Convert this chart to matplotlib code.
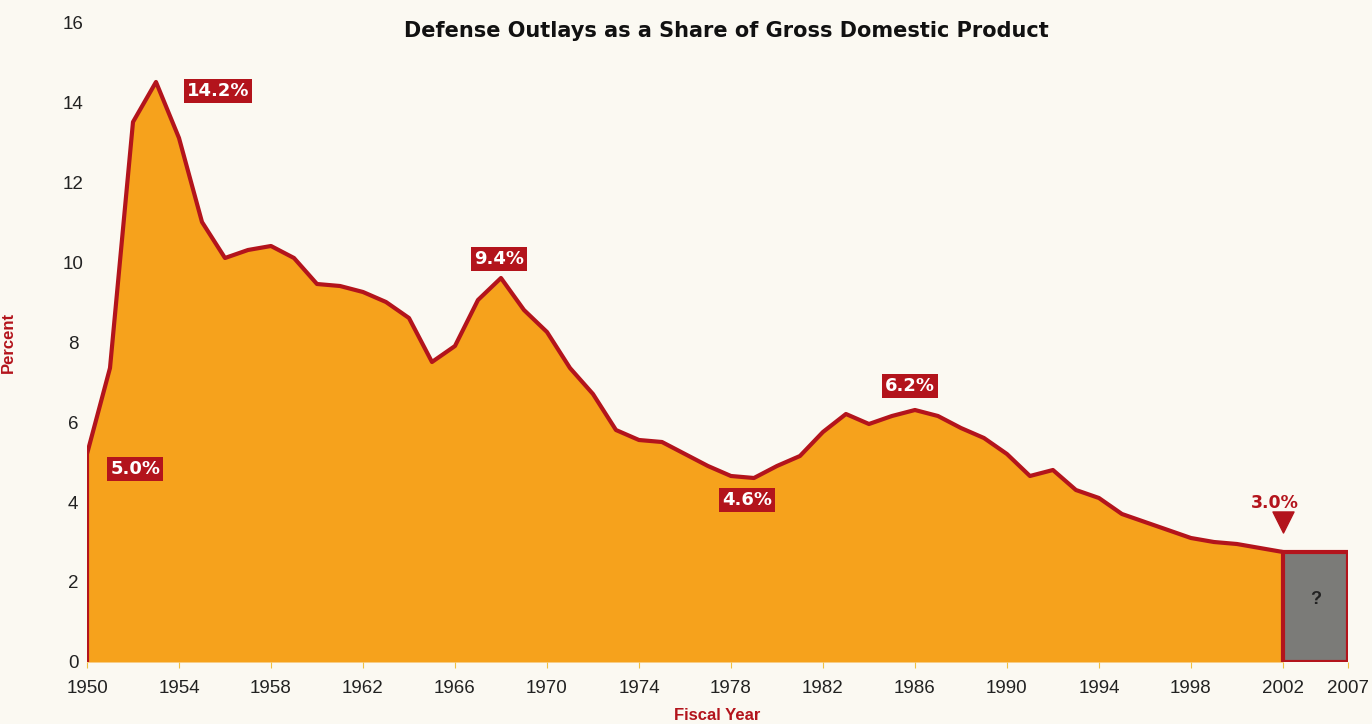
import matplotlib.pyplot as plt
from matplotlib.patches import Rectangle

# Data
years = list(range(1950, 2003))
outlays = [5.2, 7.35, 13.5, 14.5, 13.1, 11.0, 10.1, 10.3, 10.4, 10.1,
           9.45, 9.4, 9.25, 9.0, 8.6, 7.5, 7.9, 9.05, 9.6, 8.8,
           8.25, 7.35, 6.7, 5.8, 5.55, 5.5, 5.2, 4.9, 4.65, 4.6,
           4.9, 5.15, 5.75, 6.2, 5.95, 6.15, 6.3, 6.15, 5.85, 5.6,
           5.2, 4.65, 4.8, 4.3, 4.1, 3.7, 3.5, 3.3, 3.1, 3.0,
           2.95, 2.85, 2.75]

tick_years = [1950, 1954, 1958, 1962, 1966, 1970, 1974, 1978, 1982, 1986, 1990, 1994, 1998, 2002]
tick_labels = [str(y) for y in tick_years] + ["2007"]
end_pos = 2004.83  # 2007 is squeezed in the picture

# label text, x, y of the red boxes
box_labels = ["14.2%", "9.4%", "6.2%", "4.6%", "5.0%"]
box_x = [1955.7, 1967.9, 1985.8, 1978.7, 1952.1]
box_y = [14.28, 10.08, 6.9, 4.05, 4.83]

BG = "#fbf9f2"
ORANGE = "#f6a21c"
RED = "#b3141c"
GRAY = "#7b7b78"

fig = plt.figure(figsize=(13.72, 7.24), dpi=100, facecolor=BG)
ax = fig.add_axes([87 / 1372, 1 - 662 / 724, (1348 - 87) / 1372, (662 - 22) / 724])
ax.set_facecolor(BG)

ax.fill_between(years, outlays, 0, color=ORANGE, lw=0, zorder=1)
ax.plot([years[0]] + years, [0] + outlays, color=RED, lw=3, zorder=3, solid_joinstyle="round")

# projection box 2002-2007
ax.add_patch(Rectangle((years[-1], 0), end_pos - years[-1], outlays[-1],
                       facecolor=GRAY, edgecolor=RED, lw=3, zorder=2))
ax.text((years[-1] + end_pos) / 2, 1.55, "?", ha="center", va="center",
        fontsize=13, fontweight="bold", color="#222222", family="Liberation Sans")

for txt, x, y in zip(box_labels, box_x, box_y):
    ax.text(x, y, txt, ha="center", va="center", color="white", fontsize=13,
            fontweight="bold", family="DejaVu Sans", zorder=5,
            bbox=dict(boxstyle="square,pad=0.17", fc=RED, ec="none"))

ax.text(2001.65, 3.98, "3.0%", ha="center", va="center", color=RED, fontsize=12.5,
        fontweight="bold", family="DejaVu Sans", zorder=5)
ax.scatter([2002], [3.5], marker="v", s=230, color=RED, zorder=5)

ax.set_xlim(1950, end_pos)
ax.set_ylim(0, 16)
ax.set_xticks(tick_years + [end_pos])
ax.set_xticklabels(tick_labels)
ax.set_yticks(range(0, 17, 2))
for s in ax.spines.values():
    s.set_visible(False)
ax.tick_params(axis="x", length=4, color="#f0c040", labelsize=13.5, pad=9)
ax.tick_params(axis="y", length=0, labelsize=13.5, pad=10)
for lab in ax.get_yticklabels():
    lab.set_horizontalalignment("center")
for lab in ax.get_xticklabels() + ax.get_yticklabels():
    lab.set_family("Liberation Sans")
    lab.set_color("#222222")

ax.set_xlabel("Fiscal Year", color=RED, fontsize=12, fontweight="bold",
              family="Liberation Sans", labelpad=8)
ax.set_ylabel("Percent", color=RED, fontsize=12, fontweight="bold",
              family="Liberation Sans", labelpad=34)

fig.text(726 / 1372, 1 - 31 / 724, "Defense Outlays as a Share of Gross Domestic Product",
         ha="center", va="center", fontsize=15, fontweight="bold",
         family=["Liberation Sans Narrow", "DejaVu Sans"], color="#111111")

fig.savefig("out.png", dpi=100, facecolor=BG)
